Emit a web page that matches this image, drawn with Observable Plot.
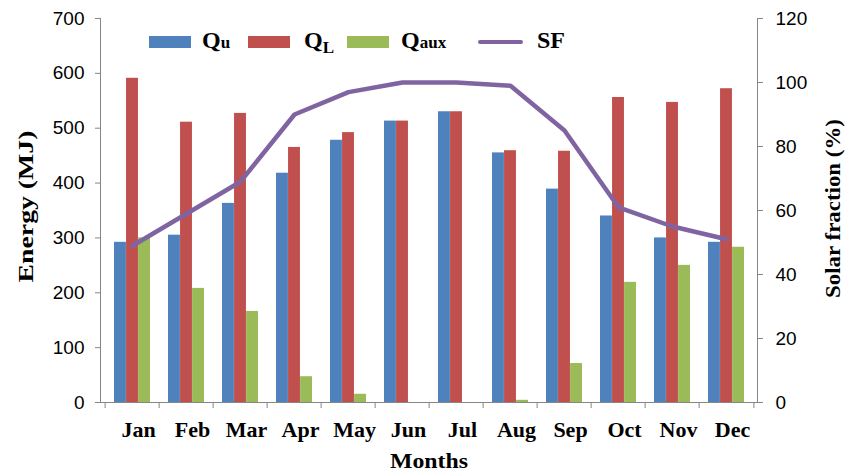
<!DOCTYPE html>
<html>
<head>
<meta charset="utf-8">
<script src="https://cdn.jsdelivr.net/npm/d3@7"></script>
<script src="https://cdn.jsdelivr.net/npm/@observablehq/plot@0.6"></script>
<style>
  body { margin: 0; background: #fff; }
  #wrap { position: relative; width: 852px; height: 473px; }
  .sw { position: absolute; height: 12px; width: 42px; }
  .lt { position: absolute; font-family: "Liberation Serif", "Times New Roman", serif; font-weight: bold; font-size: 24px; line-height: 24px; color: #000; white-space: nowrap; }
  .lt .s { font-size: 17px; }
  .lt .sub { font-size: 17px; position: relative; top: 5px; }
</style>
</head>
<body>
<div id="wrap">
  <div id="chart"></div>
  <div class="sw" style="left:149px;top:36px;background:#4F81BD"></div>
  <div class="lt" style="left:202px;top:28px">Q<span class="s">u</span></div>
  <div class="sw" style="left:248px;top:36px;background:#C0504D"></div>
  <div class="lt" style="left:304px;top:28px">Q<span class="sub">L</span></div>
  <div class="sw" style="left:347px;top:36px;background:#9BBB59"></div>
  <div class="lt" style="left:401px;top:28px">Q<span class="s">aux</span></div>
  <div class="sw" style="left:478px;top:40px;height:4px;width:45px;border-radius:2px;background:#8064A2"></div>
  <div class="lt" style="left:537px;top:28px">SF</div>
</div>
<script>
const months = ["Jan","Feb","Mar","Apr","May","Jun","Jul","Aug","Sep","Oct","Nov","Dec"];
const qu   = [292, 305, 363, 418, 478, 513, 530, 455, 389, 340, 300, 292];
const ql   = [591, 511, 527, 465, 492, 513, 530, 459, 458, 556, 547, 572];
const qaux = [300, 208, 166,  47,  15,   0,   0,   4,  71, 219, 250, 283];
const sf   = [ 49,  59,  69,  90,  97, 100, 100,  99,  85,  61,  55,  51];
const energyTicks = [0, 100, 200, 300, 400, 500, 600, 700];
const sfTicks = [0, 20, 40, 60, 80, 100, 120];

const rows = months.map((m, i) => ({month: m, qu: qu[i], ql: ql[i], qaux: qaux[i], sf: sf[i]}));

const W = 852, H = 473, mL = 100, mR = 95, mT = 18, mB = 71;
const padIn = 0.34, padOut = 0.17;
const step = (W - mL - mR) / (months.length - padIn + 2 * padOut);
const bw = step * (1 - padIn);
const third = bw / 3;
const ratio = 700 / 120;
const gray = "#868686";
const serif = "'Liberation Serif', 'Times New Roman', serif";
const sans = "'Liberation Sans', Arial, sans-serif";

const plot = Plot.plot({
  width: W, height: H,
  marginLeft: mL, marginRight: mR, marginTop: mT, marginBottom: mB,
  style: {background: "#fff", color: "#000", overflow: "visible"},
  x: {type: "band", domain: months, paddingInner: padIn, paddingOuter: padOut},
  y: {domain: [0, 700]},
  marks: [
    Plot.barY(rows, {x: "month", y: "qu", fill: "#4F81BD", insetRight: 2 * third}),
    Plot.barY(rows, {x: "month", y: "ql", fill: "#C0504D", insetLeft: third, insetRight: third}),
    Plot.barY(rows, {x: "month", y: "qaux", fill: "#9BBB59", insetLeft: 2 * third}),
    Plot.frame({anchor: "left", stroke: gray}),
    Plot.frame({anchor: "right", stroke: gray}),
    Plot.ruleY([0], {stroke: gray}),
    Plot.ruleX(months, {x: d => d, y1: 0, y2: 0, insetTop: 6, dx: -step / 2, stroke: gray}),
    Plot.ruleX(["Dec"], {x: d => d, y1: 0, y2: 0, insetTop: 6, dx: step / 2, stroke: gray}),
    Plot.line(rows, {x: "month", y: d => d.sf * ratio, stroke: "#8064A2", strokeWidth: 4.5, strokeLinecap: "round", strokeLinejoin: "round"}),
    Plot.axisY(energyTicks, {anchor: "left", tickSize: 5, tickPadding: 11, stroke: gray, fill: "#000", fontSize: 19, fontFamily: sans, label: null}),
    Plot.axisY(sfTicks.map(v => v * ratio), {anchor: "right", tickSize: 5, tickPadding: 13, stroke: gray, fill: "#000", fontSize: 19, fontFamily: sans, tickFormat: v => Math.round(v / ratio), label: null}),
    Plot.axisX({anchor: "bottom", tickSize: 0, tickPadding: 19, dx: 6, fontSize: 22, fontWeight: "bold", fontFamily: serif, fill: "#000", label: null}),
    Plot.text(["Energy (MJ)"], {text: d => d, frameAnchor: "left", textAnchor: "middle", lineAnchor: "middle", dx: -75, dy: -4, rotate: -90, fontSize: 22, fontWeight: "bold", fontFamily: serif, fill: "#000"}),
    Plot.text(["Solar fraction (%)"], {text: d => d, frameAnchor: "right", textAnchor: "middle", lineAnchor: "middle", dx: 75, dy: -2, rotate: -90, fontSize: 22, fontWeight: "bold", fontFamily: serif, fill: "#000"}),
    Plot.text(["Months"], {text: d => d, frameAnchor: "bottom", textAnchor: "middle", lineAnchor: "middle", dy: 58, fontSize: 22, fontWeight: "bold", fontFamily: serif, fill: "#000"})
  ]
});
document.getElementById("chart").appendChild(plot);

// stretch titles along their direction to match the reference lengths
const lengths = {"Energy (MJ)": 152, "Solar fraction (%)": 179, "Months": 78};
plot.querySelectorAll("text").forEach(t => {
  const L = lengths[t.textContent];
  if (L) {
    const natural = t.getComputedTextLength();
    const s = L / natural;
    const tr = t.getAttribute("transform") || "";
    t.setAttribute("transform", (tr + ` scale(${s},1)`).trim());
  }
});
</script>
</body>
</html>
